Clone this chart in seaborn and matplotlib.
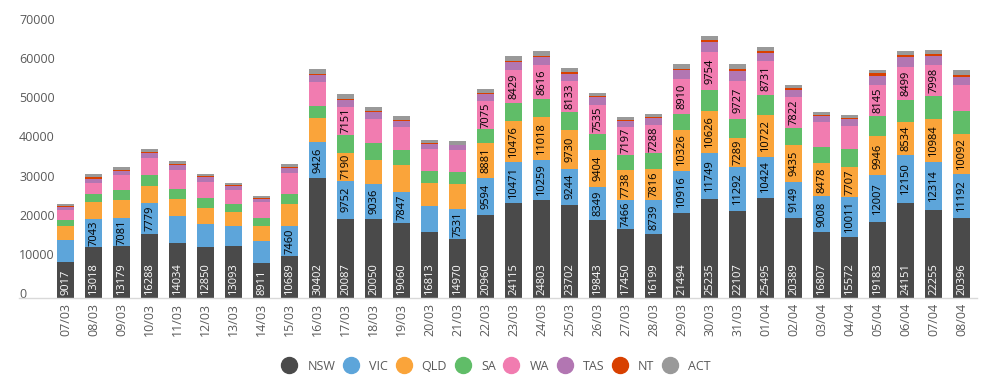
import numpy as np
import pandas as pd
import seaborn as sns
import matplotlib.pyplot as plt
from matplotlib.lines import Line2D
from matplotlib.transforms import ScaledTranslation

sns.set_style("white")
plt.rcParams['font.family'] = ['Open Sans', 'DejaVu Sans']

dates = ['07/03', '08/03', '09/03', '10/03', '11/03', '12/03', '13/03', '14/03', '15/03',
         '16/03', '17/03', '18/03', '19/03', '20/03', '21/03', '22/03', '23/03', '24/03',
         '25/03', '26/03', '27/03', '28/03', '29/03', '30/03', '31/03', '01/04', '02/04',
         '03/04', '04/04', '05/04', '06/04', '07/04', '08/04']

nsw = [9017, 13018, 13179, 16288, 14034, 12850, 13093, 8911, 10689,
       30402, 20087, 20050, 19060, 16813, 14970, 20960, 24115, 24803, 23702, 19843, 17450,
       16199, 21494, 25235, 22107, 25495, 20389, 16807, 15572, 19183, 24151, 22255, 20396]
vic = [5600, 7043, 7081, 7779, 6900, 5880, 5110, 5620, 7460,
       9426, 9752, 9036, 7847, 6640, 7531, 9594, 10471, 10259, 9244, 8349, 7466,
       8739, 10916, 11749, 11292, 10424, 9149, 9008, 10011, 12007, 12150, 12314, 11192]
qld = [3580, 4340, 4600, 4340, 4340, 4090, 3580, 3830, 5620,
       6130, 7190, 6130, 6850, 5880, 6390, 8881, 10476, 11018, 9730, 9404, 7738,
       7816, 10326, 10626, 7289, 10722, 9435, 8478, 7707, 9946, 8534, 10984, 10092]
sa = [1530, 2040, 2560, 2810, 2560, 2560, 2040, 2040, 2560,
      3070, 4600, 4340, 3830, 3070, 3070, 3580, 4600, 4600, 4600, 4090, 3830,
      4090, 4090, 5370, 4850, 5110, 4340, 4090, 4600, 5110, 5620, 5880, 5880]
wa = [2640, 2810, 3830, 4340, 4850, 4090, 3580, 4090, 5370,
      6130, 7151, 6130, 5880, 5620, 5620, 7075, 8429, 8616, 8133, 7535, 7197,
      7288, 8910, 9754, 9727, 8731, 7822, 6390, 5880, 8145, 8499, 7998, 6640]
tas = [770, 1020, 1020, 1280, 1280, 1280, 1020, 770, 1280,
       1790, 1790, 1790, 1530, 1280, 1280, 1790, 2040, 2040, 1790, 2040, 1530,
       1790, 2300, 2560, 2560, 2040, 1790, 1530, 1790, 2300, 2560, 2300, 2040]
nt = [200, 510, 250, 250, 170, 170, 250, 250, 250,
      250, 250, 250, 250, 250, 80, 250, 250, 250, 510, 250, 250,
      250, 250, 510, 510, 510, 510, 250, 250, 770, 510, 510, 510]
act = [510, 770, 770, 770, 850, 600, 510, 510, 770,
       1280, 1280, 1020, 1020, 770, 1020, 1020, 1280, 1280, 1020, 770, 770,
       770, 1280, 1020, 1280, 1020, 770, 770, 770, 770, 1020, 1020, 1280]

states = ['NSW', 'VIC', 'QLD', 'SA', 'WA', 'TAS', 'NT', 'ACT']
series = [nsw, vic, qld, sa, wa, tas, nt, act]
colors = ['#4a4a4a', '#5da5da', '#faa43a', '#60bd68', '#f17cb0', '#b276b2', '#d84000', '#999999']

grey = '#595959'

fig = plt.figure(figsize=(9.9, 3.81), dpi=100)
ax = fig.add_axes([19 / 990, (381 - 297.5) / 381, 958 / 990, 274 / 381])

bottom = np.zeros(len(dates))
for name, vals, col in zip(states, series, colors):
    vals = np.array(vals, dtype=float)
    sns.barplot(x=dates, y=vals, bottom=bottom, color=col, width=0.6,
                saturation=1, ax=ax, linewidth=0)
    for i, v in enumerate(vals):
        if name == 'NSW':
            ax.text(i, 600, f"{int(v)}", rotation=90, ha='center', va='bottom',
                    color='white', fontsize=8)
        elif v >= 7000:
            ax.text(i, bottom[i] + v / 2, f"{int(v)}", rotation=90, ha='center',
                    va='center', color='black', fontsize=8)
    bottom += vals

ax.set_xlim(-1.67, 32.55)
ax.set_ylim(0, 70000)
ax.set_yticks(np.arange(0, 70001, 10000))
ax.set_yticklabels([str(v) for v in range(0, 70001, 10000)])
ax.tick_params(axis='y', length=0, pad=0, labelsize=9, labelcolor=grey)
for lab in ax.get_yticklabels():
    lab.set_horizontalalignment('left')
    lab.set_transform(lab.get_transform() + ScaledTranslation(0, 4.5 / 100, fig.dpi_scale_trans))
ax.tick_params(axis='x', length=0, pad=4, labelsize=9, labelcolor=grey, labelrotation=90)
ax.set_xlabel('')
ax.set_ylabel('')
for s in ['top', 'right', 'left']:
    ax.spines[s].set_visible(False)
ax.spines['bottom'].set_color('#d9d9d9')
ax.spines['bottom'].set_linewidth(1)
ax.grid(False)

handles = [Line2D([0], [0], marker='o', linestyle='', markersize=11.5,
                  markerfacecolor=c, markeredgecolor=c) for c in colors]
fig.legend(handles, states, loc='center', bbox_to_anchor=(496 / 990, 15 / 381), ncol=8,
           frameon=False, fontsize=9, labelcolor=grey, handlelength=1.3,
           handletextpad=0.8, columnspacing=0.6)

fig.savefig('out.png', dpi=100)
